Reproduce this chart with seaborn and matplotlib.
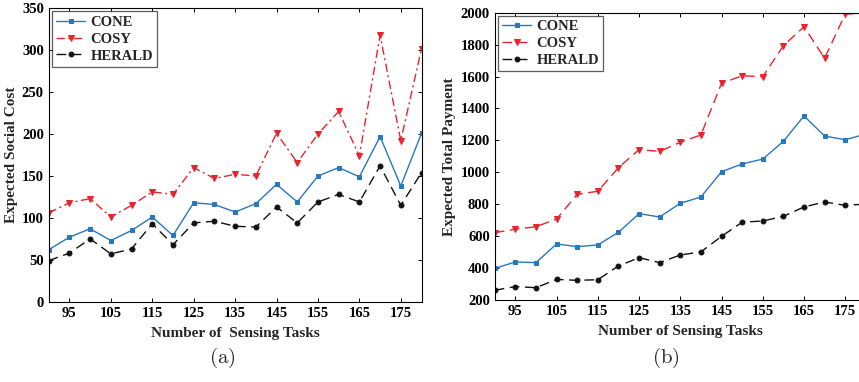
import numpy as np
import pandas as pd
import matplotlib
matplotlib.use("Agg")
import matplotlib.pyplot as plt
import seaborn as sns

# ---------------- data ----------------
tasks = [90, 95, 100, 105, 110, 115, 120, 125, 130, 135, 140, 145, 150, 155, 160, 165, 170, 175, 180]

cost_cone = [62, 77, 87, 73, 85, 101, 79, 118, 116, 107, 117, 140, 119, 150, 160, 149, 197, 138, 201]
cost_cosy = [106, 118, 123, 101, 115, 131, 128, 160, 147, 152, 150, 201, 166, 200, 227, 174, 318, 192, 302]
cost_herald = [49, 58, 75, 57, 63, 93, 68, 94, 96, 90, 89, 113, 94, 119, 128, 119, 162, 115, 154]

pay_cone = [398, 438, 434, 551, 534, 545, 624, 741, 720, 806, 845, 1004, 1052, 1083, 1194, 1353, 1227, 1204, 1240]
pay_cosy = [622, 643, 659, 707, 862, 881, 1029, 1142, 1131, 1188, 1234, 1557, 1605, 1599, 1793, 1912, 1714, 1992, 1995]
pay_herald = [261, 284, 277, 329, 323, 327, 413, 465, 434, 482, 501, 599, 687, 695, 724, 783, 814, 793, 801]

xticks = [95, 105, 115, 125, 135, 145, 155, 165, 175]

# ---------------- style ----------------
sns.set_style("ticks")
plt.rcParams["font.family"] = ["Liberation Serif", "DejaVu Serif"]
plt.rcParams["font.weight"] = "bold"
plt.rcParams["axes.labelweight"] = "bold"
plt.rcParams["mathtext.fontset"] = "cm"
plt.rcParams["xtick.direction"] = "in"
plt.rcParams["ytick.direction"] = "in"
plt.rcParams["xtick.top"] = True
plt.rcParams["ytick.right"] = True

BLUE = "#2878c0"
RED = "#e8242c"
BLACK = "#111111"

fig = plt.figure(figsize=(8.59, 3.82), dpi=100)
ax1 = fig.add_axes([0.0567, 0.2102, 0.4340, 0.7680])
ax2 = fig.add_axes([0.5759, 0.2147, 0.4321, 0.7521])


def draw(ax, cone, cosy, herald, cosy_dash):
    sns.lineplot(x=tasks, y=cone, ax=ax, color=BLUE, marker="s", markersize=3.5,
                 markeredgecolor=BLUE, linewidth=1.0, label="CONE")
    sns.lineplot(x=tasks, y=cosy, ax=ax, color=RED, marker="v", markersize=4.5,
                 markeredgecolor=RED, linewidth=1.0, label="COSY")
    sns.lineplot(x=tasks, y=herald, ax=ax, color=BLACK, marker="o", markersize=3.5,
                 markeredgecolor=BLACK, linewidth=1.0, label="HERALD")
    lines = ax.get_lines()
    lines[1].set_dashes(cosy_dash)
    lines[2].set_dashes((7, 4))
    ax.set_xlim(90, 180)
    ax.set_xticks(xticks)
    for s in ax.spines.values():
        s.set_color("black")
        s.set_linewidth(0.8)
    ax.tick_params(labelsize=10.5, length=3, width=0.7, colors="black")
    for t in ax.get_xticklabels() + ax.get_yticklabels():
        t.set_fontweight("bold")
    leg = ax.legend(loc="upper left", fontsize=10.5, frameon=True, fancybox=False,
                    edgecolor="#333333", handlelength=2.0, handletextpad=0.35,
                    borderpad=0.3, labelspacing=0.25, borderaxespad=0.2)
    leg.get_frame().set_linewidth(0.9)
    for t in leg.get_texts():
        t.set_fontweight("bold")


draw(ax1, cost_cone, cost_cosy, cost_herald, (6, 2.5, 1.5, 2.5))
ax1.set_ylim(0, 350)
ax1.set_yticks(np.arange(0, 351, 50))
ax1.set_ylabel("Expected Social Cost", fontsize=11, fontweight="bold", labelpad=3)
ax1.set_xlabel("Number of  Sensing Tasks", fontsize=11, fontweight="bold", labelpad=5)

draw(ax2, pay_cone, pay_cosy, pay_herald, (7, 4))
ax2.set_ylim(200, 2000)
ax2.set_yticks(np.arange(200, 2001, 200))
ax2.set_ylabel("Expected Total Payment", fontsize=11, fontweight="bold", labelpad=3)
ax2.set_xlabel("Number of Sensing Tasks", fontsize=11, fontweight="bold", labelpad=5)

fig.text(0.2585, 0.063, r"$\mathrm{(a)}$", ha="center", va="center", fontsize=15)
fig.text(0.775, 0.063, r"$\mathrm{(b)}$", ha="center", va="center", fontsize=15)

fig.savefig("out.png", dpi=100)
